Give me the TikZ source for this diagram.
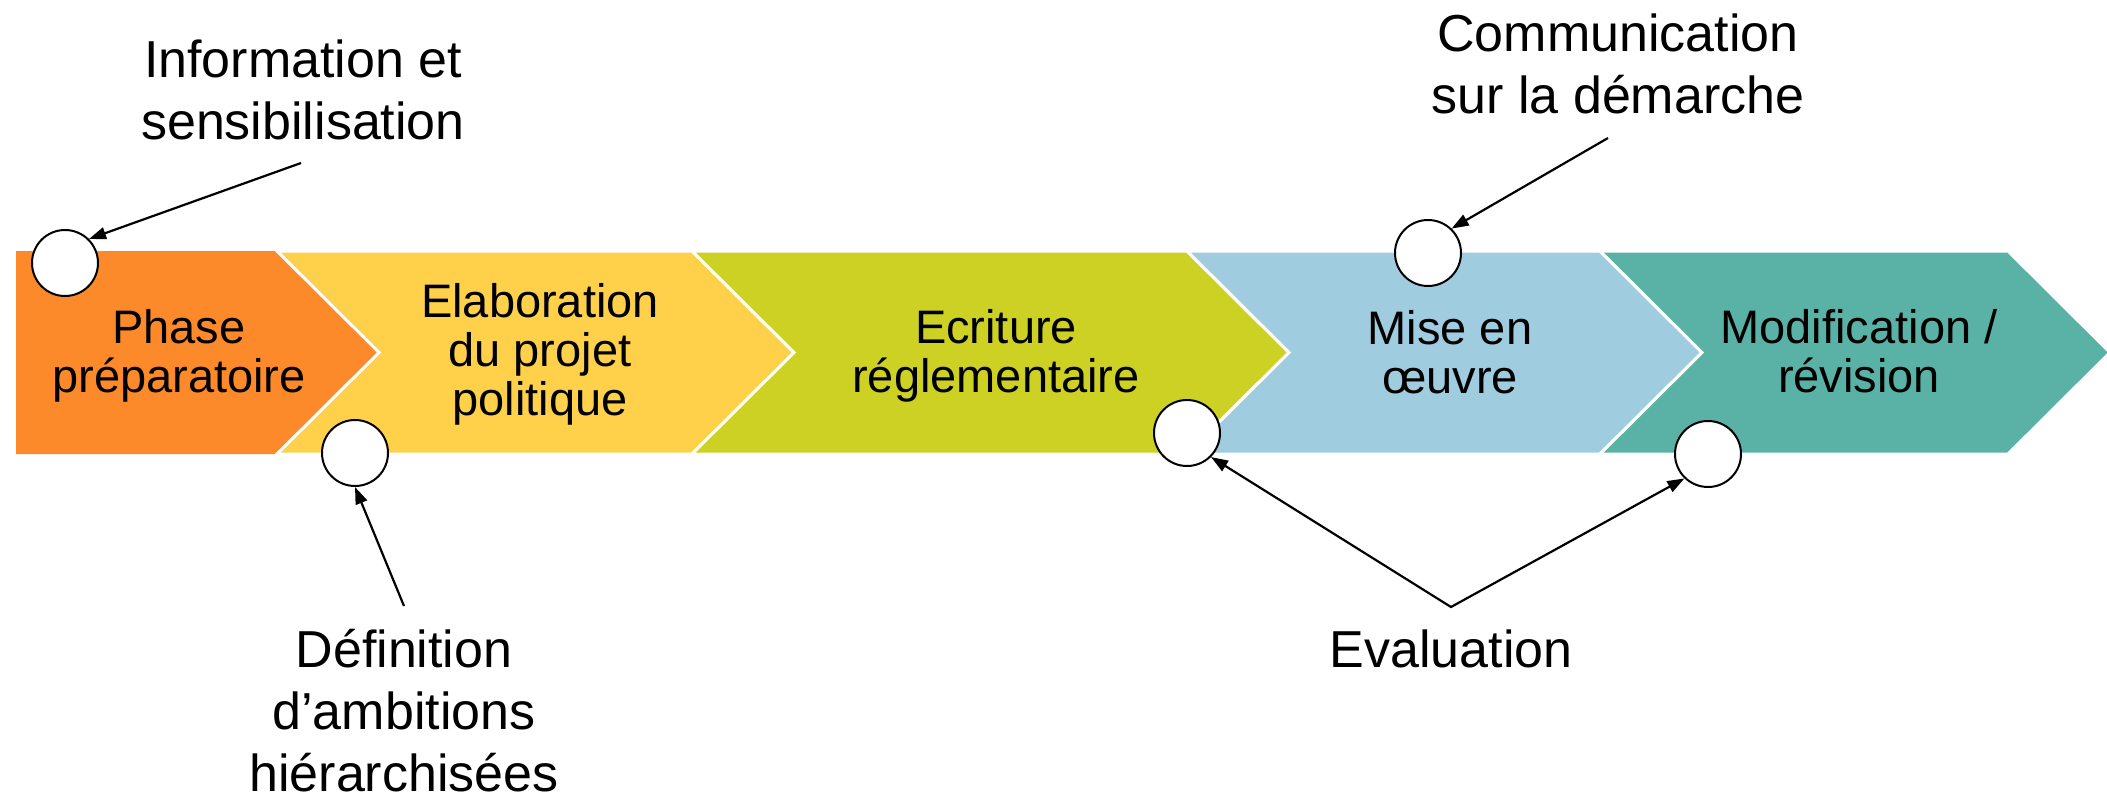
\documentclass[tikz,border=0pt]{standalone}
\usepackage{fontspec}
\setmainfont{Liberation Sans}
\usetikzlibrary{arrows.meta}
\definecolor{cOrange}{HTML}{FD8A2A}
\definecolor{cYellow}{HTML}{FFD14B}
\definecolor{cGreen}{HTML}{CCD124}
\definecolor{cBlue}{HTML}{A0CCDF}
\definecolor{cTeal}{HTML}{5AB2A6}
\begin{document}
\begin{tikzpicture}[x=1pt,y=-1pt,
  chevron/.style={draw=white, line width=3pt, line join=miter},
  boxtext/.style={font=\fontsize{47}{49}\selectfont, align=center, inner sep=0pt},
  note/.style={font=\fontsize{52}{62}\selectfont, align=center, inner sep=0pt},
  dotc/.style={circle, draw=black, fill=white, line width=2pt, minimum size=66pt, inner sep=0pt},
  conn/.style={line width=2.2pt, line join=miter, -{Triangle[length=17pt,width=12pt]}},
  conn2/.style={line width=2.2pt, line join=miter, {Triangle[length=17pt,width=12pt]}-{Triangle[length=17pt,width=12pt]}}
]
\useasboundingbox (0,0) rectangle (2107,800);
% chevrons
\fill[cOrange] (16,251) -- (277,251) -- (379,352.5) -- (277,454) -- (16,454) -- cycle;
\draw[chevron, fill=cYellow] (277,251) -- (692,251) -- (794,352.5) -- (692,454) -- (277,454) -- (379,352.5) -- cycle;
\draw[chevron, fill=cGreen] (692,251) -- (1187,251) -- (1289,352.5) -- (1187,454) -- (692,454) -- (794,352.5) -- cycle;
\draw[chevron, fill=cBlue] (1187,251) -- (1600,251) -- (1702,352.5) -- (1600,454) -- (1187,454) -- (1289,352.5) -- cycle;
\draw[chevron, fill=cTeal] (1600,251) -- (2008,251) -- (2110,352.5) -- (2008,454) -- (1600,454) -- (1702,352.5) -- cycle;
% box texts (anchor=base = baseline of last line)
\node[boxtext, anchor=base] (t1) at (179,392) {Phase\\préparatoire};
\node[boxtext, anchor=base] (t2) at (540,415) {Elaboration\\du projet\\politique};
\node[boxtext, anchor=base] (t3) at (996,392) {Ecriture\\réglementaire};
\node[boxtext, anchor=base] (t4) at (1450,393) {Mise en\\œuvre};
\node[boxtext, anchor=base] (t5) at (1859,392) {Modification /\\révision};
% circles
\node[dotc] (c1) at (65,263) {};
\node[dotc] (c2) at (355,453) {};
\node[dotc] (c3) at (1187,433) {};
\node[dotc] (c4) at (1428,253) {};
\node[dotc] (c5) at (1708,454) {};
% annotations
\node[note, anchor=base] (n1) at (303,139) {Information et\\sensibilisation};
\node[note, anchor=base] (n2) at (404,791) {Définition\\d’ambitions\\hiérarchisées};
\node[note, anchor=base] (n3) at (1618,113) {Communication\\sur la démarche};
\node[note, anchor=base] (n4) at (1451,667) {Evaluation};
% connectors
\coordinate (s1) at (301,163);
\coordinate (s2) at (404,606);
\coordinate (s3) at (1608,138);
\coordinate (apex) at (1451,607);
\draw[conn] (s1) -- (c1.45);
\draw[conn] (s2) -- (c2.-90);
\draw[conn] (s3) -- (c4.46);
\draw[conn2] (c3.-45) -- (apex) -- (c5.-134);
\end{tikzpicture}
\end{document}
